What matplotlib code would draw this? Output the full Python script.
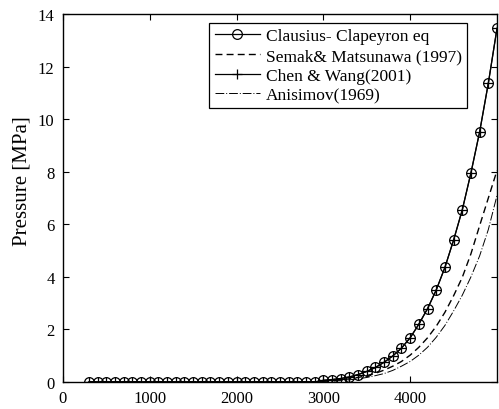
import matplotlib
matplotlib.use("Agg")
import matplotlib.pyplot as plt
import numpy as np

plt.rcParams["font.family"] = ["Liberation Serif", "DejaVu Serif"]

# Température (K), un point tous les 100 K
temperature = np.arange(300, 5001, 100)

# Pression de vapeur (MPa) ; nulle en dessous de 3000 K
clausius_p = [0.0] * 27 + [
    0.06, 0.09, 0.13, 0.19, 0.28, 0.40, 0.55, 0.75, 0.99, 1.29, 1.68,
    2.20, 2.79, 3.50, 4.36, 5.40, 6.55, 7.96, 9.52, 11.37, 13.46,
]
chen_wang_p = [0.0] * 27 + [
    0.06, 0.09, 0.13, 0.19, 0.28, 0.40, 0.55, 0.75, 0.99, 1.29, 1.68,
    2.20, 2.79, 3.50, 4.36, 5.40, 6.55, 7.96, 9.52, 11.37, 13.46,
]
semak_p = [0.0] * 27 + [
    0.03, 0.05, 0.08, 0.12, 0.17, 0.24, 0.33, 0.45, 0.60, 0.78, 1.02,
    1.32, 1.68, 2.12, 2.65, 3.28, 3.98, 4.88, 5.95, 7.00, 8.05,
]
anisimov_p = [0.0] * 27 + [
    0.02, 0.03, 0.05, 0.08, 0.12, 0.17, 0.24, 0.32, 0.44, 0.60, 0.78,
    1.02, 1.32, 1.70, 2.15, 2.70, 3.30, 4.00, 4.80, 5.80, 7.10,
]

labels = [
    "Clausius- Clapeyron eq",
    "Semak& Matsunawa (1997)",
    "Chen & Wang(2001)",
    "Anisimov(1969)",
]

fig = plt.figure(figsize=(4.99, 4.10), dpi=100)
ax = fig.add_axes([0.126, 0.066, 0.87, 0.897])

ax.plot(temperature, clausius_p, color="black", linewidth=0.9, marker="o",
        markersize=7, markerfacecolor="none", markeredgewidth=0.9, label=labels[0])
ax.plot(temperature, semak_p, color="black", linewidth=1.0, dashes=(5, 3), label=labels[1])
ax.plot(temperature, chen_wang_p, color="black", linewidth=0.9, marker="+",
        markersize=7, markeredgewidth=0.9, label=labels[2])
ax.plot(temperature, anisimov_p, color="black", linewidth=0.7,
        linestyle=(0, (9, 2, 1, 2)), label=labels[3])

ax.set_xlim(0, 5000)
ax.set_ylim(0, 14)
ax.set_xticks([0, 1000, 2000, 3000, 4000])
ax.set_yticks(np.arange(0, 15, 2))
ax.tick_params(direction="in", top=True, right=True, length=4, width=0.8,
               labelsize=12, pad=6)
for side in ax.spines.values():
    side.set_linewidth(1.0)

ax.set_ylabel("Pressure [MPa]", fontsize=15)
ax.yaxis.set_label_coords(-0.072, 0.549)

leg = ax.legend(loc="upper right", bbox_to_anchor=(0.931, 0.976), borderaxespad=0,
                fancybox=False, edgecolor="black", framealpha=1, fontsize=12.5,
                handlelength=2.6, labelspacing=0.2, handletextpad=0.35,
                borderpad=0.3)
leg.get_frame().set_linewidth(0.9)

fig.savefig("out.png", dpi=100)
